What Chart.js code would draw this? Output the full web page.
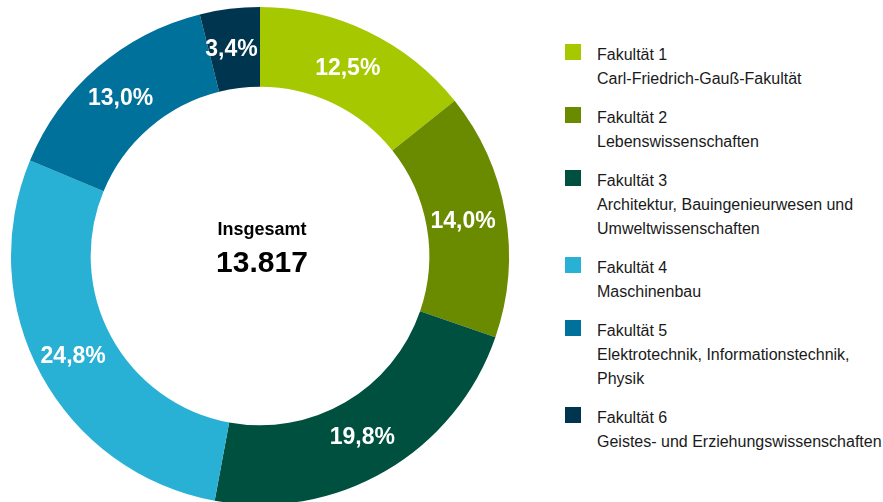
<!DOCTYPE html>
<html lang="de">
<head>
    <meta charset="UTF-8">
    <title>Studierende nach Fakultäten</title>
    <script src="https://cdn.jsdelivr.net/npm/chart.js"></script>
    <style>
        body { margin: 0; overflow: hidden; background: #fff; font-family: "Liberation Sans", Arial, sans-serif; }
        #chartBox { position: absolute; left: 0; top: 0; width: 520px; height: 512px; }
        #legend { position: absolute; left: 565px; top: 43px; color: #1a1a1a; font-size: 16px; line-height: 24px; white-space: nowrap; }
        .item { position: relative; padding-left: 32px; margin-bottom: 15px; }
        .item span { position: absolute; left: 0; top: 1px; width: 16px; height: 16px; }
    </style>
</head>
<body>
    <div id="chartBox"><canvas id="myChart"></canvas></div>
    <div id="legend"></div>

    <script>
        // Daten
        const faculties = ['Fakultät 1', 'Fakultät 2', 'Fakultät 3', 'Fakultät 4', 'Fakultät 5', 'Fakultät 6'];
        const descriptions = [
            ['Carl-Friedrich-Gauß-Fakultät'],
            ['Lebenswissenschaften'],
            ['Architektur, Bauingenieurwesen und', 'Umweltwissenschaften'],
            ['Maschinenbau'],
            ['Elektrotechnik, Informationstechnik,', 'Physik'],
            ['Geistes- und Erziehungswissenschaften']
        ];
        const shares = [12.5, 14.0, 19.8, 24.8, 13.0, 3.4];
        const colors = ['#a6c800', '#6a8a00', '#00503f', '#28b0d5', '#00719a', '#003550'];
        const totalLabel = 'Insgesamt';
        const totalValue = '13.817';

        // Legende als HTML
        const legend = document.getElementById('legend');
        faculties.forEach((name, i) => {
            const div = document.createElement('div');
            div.className = 'item';
            div.innerHTML = '<span style="background:' + colors[i] + '"></span>' +
                [name].concat(descriptions[i]).join('<br>');
            legend.appendChild(div);
        });

        const labelsPlugin = {
            id: 'labelsPlugin',
            afterDraw(chart) {
                const ctx = chart.ctx;
                const arcs = chart.getDatasetMeta(0).data;
                ctx.save();
                ctx.textAlign = 'center';
                ctx.textBaseline = 'middle';
                ctx.fillStyle = '#ffffff';
                ctx.font = 'bold 23px "Liberation Sans", Arial, sans-serif';
                arcs.forEach((arc, i) => {
                    const p = arc.tooltipPosition();
                    ctx.fillText(shares[i].toFixed(1).replace('.', ',') + '%', p.x - 3, p.y + 1);
                });
                // Mitte
                const cx = arcs[0].x, cy = arcs[0].y;
                ctx.fillStyle = '#000000';
                ctx.textBaseline = 'alphabetic';
                ctx.font = 'bold 18px "Liberation Sans", Arial, sans-serif';
                ctx.fillText(totalLabel, cx + 2, cy - 21);
                ctx.font = 'bold 30px "Liberation Sans", Arial, sans-serif';
                ctx.fillText(totalValue, cx + 2, cy + 16);
                ctx.restore();
            }
        };

        new Chart(document.getElementById('myChart'), {
            type: 'doughnut',
            data: {
                labels: faculties,
                datasets: [{
                    data: shares,
                    backgroundColor: colors,
                    borderWidth: 0
                }]
            },
            options: {
                responsive: true,
                maintainAspectRatio: false,
                animation: false,
                cutout: '68%',
                layout: { padding: { left: 11, right: 11, top: 7, bottom: 7 } },
                plugins: {
                    legend: { display: false },
                    tooltip: { enabled: false }
                }
            },
            plugins: [labelsPlugin]
        });
    </script>
</body>
</html>
